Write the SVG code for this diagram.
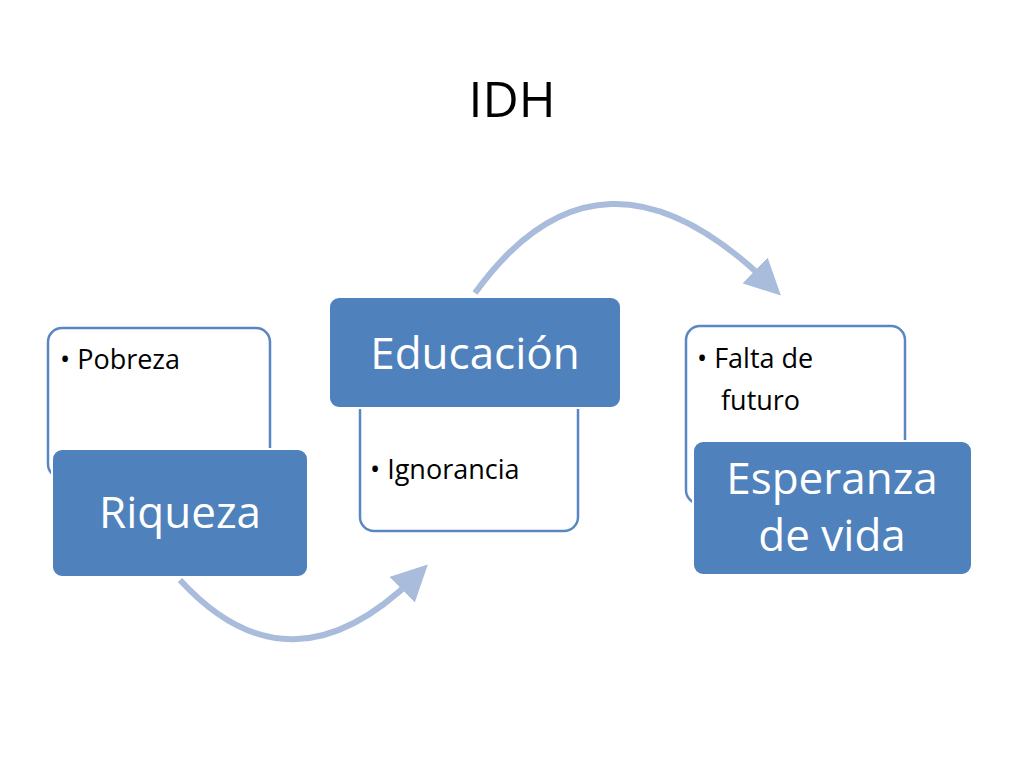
<svg xmlns="http://www.w3.org/2000/svg" width="1024" height="768" viewBox="0 0 1024 768">
<style>
.w{fill:#fff;stroke:#5a87c2;stroke-width:2.5}
.b{fill:#4f81bd;stroke:#fff;stroke-width:2}
.t{font-family:"Open Sans","Liberation Sans",sans-serif;fill:#000;font-size:27px}
.bt{font-family:"Open Sans","Liberation Sans",sans-serif;fill:#fff;font-size:44px;text-anchor:middle}
.arc{fill:none;stroke:#a9bcdb;stroke-width:6}
</style>
<defs><marker id="ah" markerWidth="6" markerHeight="6" refX="3" refY="3" orient="auto" markerUnits="strokeWidth"><path d="M0,0 L6,3 L0,6 Z" fill="#a9bcdb"/></marker></defs>
<rect width="1024" height="768" fill="#fff"/>
<text x="512" y="117" text-anchor="middle" font-family="Open Sans,Liberation Sans,sans-serif" font-size="50">IDH</text>
<g id="connectors">
<path class="arc" d="M180,580 Q290,700 415,577" marker-end="url(#ah)"/>
<path class="arc" d="M475,293 Q600,120 768,283" marker-end="url(#ah)"/>
</g>
<g id="n1"><rect class="w" x="48" y="328" width="222" height="150" rx="14"/><text class="t" x="60" y="369">• Pobreza</text></g>
<g id="n2"><rect class="b" x="52" y="449" width="256" height="128" rx="10"/><text class="bt" x="180" y="528">Riqueza</text></g>
<g id="n3"><rect class="w" x="360" y="395" width="218" height="136" rx="14"/><text class="t" x="370" y="479">• Ignorancia</text></g>
<g id="n4"><rect class="b" x="329" y="297" width="292" height="111" rx="10"/><text class="bt" x="475" y="369">Educación</text></g>
<g id="n5"><rect class="w" x="686" y="326" width="219" height="178" rx="14"/><text class="t" x="697" y="368">• Falta de</text><text class="t" x="721" y="410">futuro</text></g>
<g id="n6"><rect class="b" x="693" y="441" width="279" height="134" rx="10"/><text class="bt" x="832" y="494">Esperanza</text><text class="bt" x="832" y="551">de vida</text></g>
</svg>
